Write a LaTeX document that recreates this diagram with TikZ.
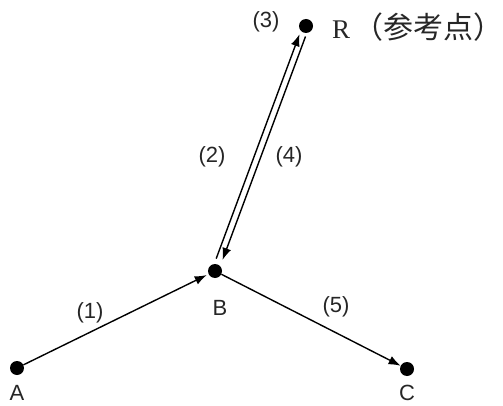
\documentclass[tikz,border=0pt]{standalone}
\usepackage{fontspec}
\setmainfont{Liberation Sans}
\newfontfamily\serifR{Liberation Serif}
\newfontfamily\cjk{Noto Sans CJK SC}
\usetikzlibrary{arrows.meta,calc}
\begin{document}
\begin{tikzpicture}[x=1pt,y=1pt,
  dot/.style={circle,fill=black,inner sep=0pt,minimum size=14pt},
  lbl/.style={font=\fontsize{22}{24}\selectfont,text=black!85,inner sep=0pt},
  arr/.style={-{Latex[length=12pt,width=9pt]},line width=1.4pt}]
\useasboundingbox (0,0) rectangle (503,405);
\node[dot] (A) at (17,37) {};
\node[dot] (B) at (215,134) {};
\node[dot] (C) at (407,36) {};
\node[dot] (R) at (306,379) {};
% labels
\node[lbl] (lA) at (17,12) {A};
\node[lbl] (lB) at (220,97) {B};
\node[lbl] (lC) at (407,12) {C};
\node[lbl] (l3) at (266,383) {(3)};
\node[lbl,anchor=west] (lR) at (332,378) {{\fontsize{27}{29}\selectfont\serifR R}\,{\fontsize{30}{32}\selectfont\cjk （参考点）}};
\node[lbl] (l2) at (212,248) {(2)};
\node[lbl] (l4) at (289,248) {(4)};
\node[lbl] (l1) at (90,92) {(1)};
\node[lbl] (l5) at (336,98) {(5)};
% connectors
\draw[arr,shorten >=2pt] (A) -- (B);
\draw[arr,shorten >=0pt] (B) -- (C);
\draw[arr,shorten <=12pt,shorten >=10pt] ($(B)!3.2pt!90:(R)$) -- ($(R)!3.2pt!-90:(B)$);
\draw[arr,shorten <=10pt,shorten >=13pt] ($(R)!3.2pt!90:(B)$) -- ($(B)!3.2pt!-90:(R)$);
\end{tikzpicture}
\end{document}
